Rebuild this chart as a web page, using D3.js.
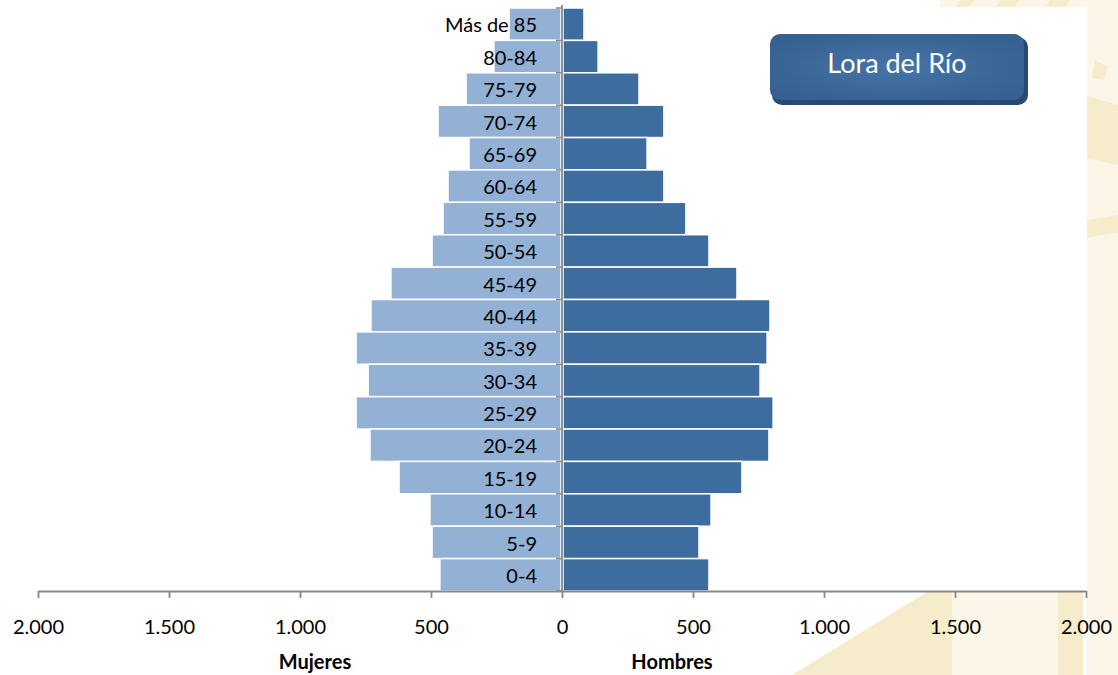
<!DOCTYPE html>
<html><head><meta charset="utf-8">
<script src="https://cdn.jsdelivr.net/npm/d3@7"></script>
<style>html,body{margin:0;padding:0;background:#fff}svg{display:block}</style>
</head><body>
<svg id="c" width="1118" height="675"></svg>
<script>
const categories = ["Más de 85","80-84","75-79","70-74","65-69","60-64","55-59","50-54","45-49","40-44","35-39","30-34","25-29","20-24","15-19","10-14","5-9","0-4"];
const mujeres = [202,260,366,473,355,435,454,496,653,729,786,740,786,733,622,504,496,466];
const hombres = [80,134,290,385,321,385,469,557,664,790,779,752,802,786,683,565,519,557];
const xTicks = [-2000,-1500,-1000,-500,0,500,1000,1500,2000];
const title = "Lora del Río";
const labelMujeres = "Mujeres", labelHombres = "Hombres";

const svg = d3.select("#c");
const font = "Lato, 'Open Sans', sans-serif";

// decorative cream background outside plot area
const cream = "#fbf6e7", creamD = "#f6ebcb";
svg.append("rect").attr("x",1087).attr("y",0).attr("width",31).attr("height",675).attr("fill",cream);
svg.append("rect").attr("x",940).attr("y",0).attr("width",178).attr("height",7).attr("fill",cream);
const deco = [
  [[792,675],[927,592],[952,592],[952,675]],
  [[952,592],[1058,592],[1058,675],[952,675]],
  [[1058,592],[1083,592],[1083,675],[1058,675]],
  [[1087,96],[1118,105],[1118,165],[1087,158]],
  [[1095,60],[1108,67],[1104,80],[1092,78]],
  [[960,0],[975,0],[968,7],[955,7]],
  [[1000,0],[1020,0],[1014,7],[996,7]],
  [[1050,0],[1070,0],[1066,7],[1046,7]],
  [[1087,220],[1118,215],[1118,232],[1087,238]]
];
const decoFill = [creamD, cream, creamD, creamD, creamD, creamD, creamD, creamD, creamD];
svg.selectAll("polygon.deco").data(deco).join("polygon").attr("class","deco")
  .attr("points", d => d.map(p => p.join(",")).join(" "))
  .attr("fill", (d,i) => decoFill[i]);

const x = d3.scaleLinear().domain([-2000,2000]).range([38,1086]);
const y = d3.scaleBand().domain(categories).range([8,591]).padding(0);

// bars
svg.append("g").selectAll("rect").data(categories).join("rect")
  .attr("x", (d,i) => x(-mujeres[i])).attr("y", d => y(d))
  .attr("width", (d,i) => x(0) - x(-mujeres[i]) - 1).attr("height", y.bandwidth())
  .attr("fill","#93b1d5").attr("stroke","#fff").attr("stroke-width",1.5);
svg.append("g").selectAll("rect").data(categories).join("rect")
  .attr("x", x(0) + 1).attr("y", d => y(d))
  .attr("width", (d,i) => x(hombres[i]) - x(0)).attr("height", y.bandwidth())
  .attr("fill","#3d6d9e").attr("stroke","#fff").attr("stroke-width",1.5);

// x axis
const loc = d3.formatLocale({decimal:",", thousands:".", grouping:[3], currency:["","€"]});
const fmt = loc.format(",");
const xAxis = svg.append("g").attr("transform","translate(0,591)")
  .call(d3.axisBottom(x).tickValues(xTicks).tickSize(7).tickSizeOuter(0).tickPadding(22).tickFormat(d => fmt(Math.abs(d))));
xAxis.select(".domain").attr("stroke","#888").attr("stroke-width",1.8);
xAxis.selectAll(".tick line").attr("stroke","#888").attr("stroke-width",1.8);
xAxis.selectAll(".tick text").attr("font-family",font).attr("font-size",20).attr("fill","#000");

// y axis line at 0 with band ticks
const yb = categories.map(c => y(c)).concat([y.range()[1]]);
svg.append("line").attr("x1",x(0)).attr("x2",x(0)).attr("y1",5).attr("y2",591)
  .attr("stroke","#888").attr("stroke-width",1.8);
svg.append("g").selectAll("line").data(yb).join("line")
  .attr("x1",x(0)-6).attr("x2",x(0)).attr("y1",d=>d).attr("y2",d=>d)
  .attr("stroke","#888").attr("stroke-width",1.5);

// category labels
svg.append("g").selectAll("text").data(categories).join("text")
  .attr("x",537).attr("y", d => y(d) + y.bandwidth()/2 + 1).attr("dy","0.36em")
  .attr("text-anchor","end").attr("font-family",font).attr("font-size",20).attr("fill","#000")
  .text(d => d);

// axis titles
svg.append("text").attr("x",315).attr("y",669).attr("text-anchor","middle")
  .attr("font-family",font).attr("font-weight","bold").attr("font-size",20).text(labelMujeres);
svg.append("text").attr("x",672).attr("y",669).attr("text-anchor","middle")
  .attr("font-family",font).attr("font-weight","bold").attr("font-size",20).text(labelHombres);

// title box
const defs = svg.append("defs");
const g = defs.append("radialGradient").attr("id","tg").attr("cx","50%").attr("cy","50%").attr("r","60%");
g.append("stop").attr("offset","0%").attr("stop-color","#4775a8");
g.append("stop").attr("offset","100%").attr("stop-color","#35608f");
svg.append("rect").attr("x",772).attr("y",37).attr("width",256).attr("height",68).attr("rx",10).attr("fill","#254a73");
svg.append("rect").attr("x",770).attr("y",34).attr("width",254).attr("height",66).attr("rx",10).attr("fill","url(#tg)");
svg.append("text").attr("x",897).attr("y",64).attr("dy","0.35em").attr("text-anchor","middle")
  .attr("font-family",font).attr("font-size",27).attr("fill","#fff").text(title);
</script>
</body></html>
